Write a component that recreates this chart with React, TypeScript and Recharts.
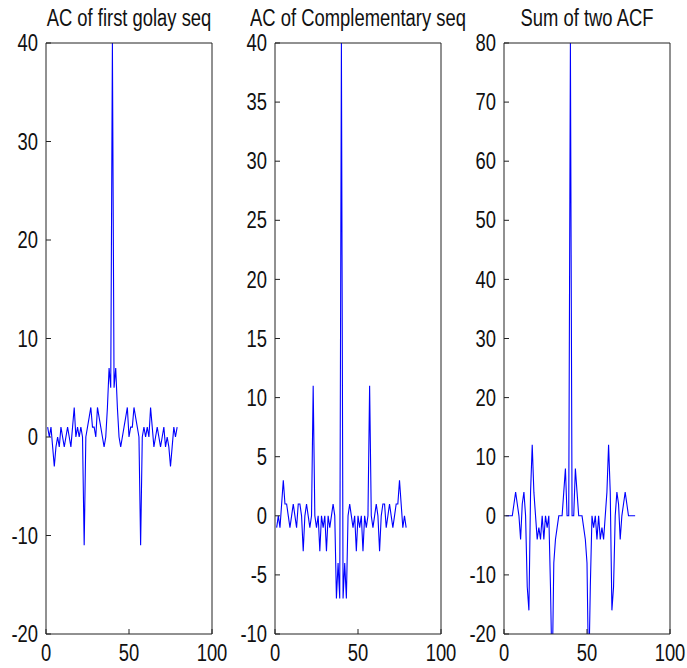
import { LineChart, Line, XAxis, YAxis } from 'recharts'

// lag index 1..79 (xcorr of a length-40 sequence)
const lags = Array.from({ length: 79 }, (_, i) => i + 1)

const acFirst = [
  1, 0, 1, -1, -3, -1, 0, -1, 1, 0, -1, 0, 1, 0, -1, 1, 3, 0, 1, 0,
  1, 0, -11, 0, 1, 2, 3, 1, 1, 0, 3, 2, 1, 0, -1, 0, 3, 7, 5, 40,
  5, 7, 3, 0, -1, 0, 1, 2, 3, 0, 1, 1, 3, 2, 1, 0, -11, 0, 1, 0,
  1, 0, 3, 1, -1, 0, 1, 0, -1, 0, 1, -1, 0, -1, -3, -1, 1, 0, 1,
]

const acComp = [
  -1, 0, -1, 1, 3, 1, 1, 0, -1, 0, 1, 0, -1, 1, 1, 0, -3, 0, 1, 0,
  -1, 0, 11, 0, -1, 0, -3, 0, -1, 0, -3, 0, -1, 0, 1, 0, -7, -4, -7, 40,
  -7, -4, -7, 0, 1, 0, -1, 0, -3, 0, -1, 0, -3, 0, -1, 0, 11, 0, -1, 0,
  1, 0, -3, 0, 1, 1, -1, 0, 1, 0, -1, 0, 1, 1, 3, 1, -1, 0, -1,
]

const acSum = [
  0, 0, 0, 0, 0, 2, 4, 2, 0, -4, 2, 4, 0, -12, -16, 4, 12, 4, 0, -4,
  -2, -4, 0, -4, 0, -2, 0, -12, -28, -8, -4, -2, 0, 0, 0, 4, 8, 0, 0, 80,
  0, 0, 8, 4, 0, 0, 0, -2, -4, -8, -28, -12, 0, -2, 0, -4, 0, -4, -2, -4,
  0, 4, 12, 4, -16, -12, 0, 4, 2, -4, 0, 2, 4, 2, 0, 0, 0, 0, 0,
]

const titles = ['AC of first golay seq', 'AC of Complementary seq', 'Sum of two ACF']
const xTicks = [0, 50, 100]
const yTicks1 = [-20, -10, 0, 10, 20, 30, 40]
const yTicks2 = [-10, -5, 0, 5, 10, 15, 20, 25, 30, 35, 40]
const yTicks3 = [-20, -10, 0, 10, 20, 30, 40, 50, 60, 70, 80]

const FONT = "'Liberation Sans', Arial, sans-serif"
const PLOT_W = 166
const TOP = 43
const BOTTOM = 634
const H = 668
const RIGHT_PAD = 30
const AXIS = '#222'
const SQUEEZE = 0.8

// narrow, tall tick labels like the old figure export
function BottomTick(props: any) {
  const { x, y, payload } = props
  return (
    <text
      transform={`translate(${x},${y}) scale(${SQUEEZE},1)`}
      textAnchor="middle"
      dy="0.71em"
      fontSize={23}
      fontFamily={FONT}
      fill="#111"
    >
      {payload.value}
    </text>
  )
}

function LeftTick(props: any) {
  const { x, y, payload } = props
  return (
    <text
      transform={`translate(${x},${y}) scale(${SQUEEZE},1)`}
      textAnchor="end"
      dy="0.355em"
      fontSize={23}
      fontFamily={FONT}
      fill="#111"
    >
      {payload.value}
    </text>
  )
}

type PanelProps = {
  left: number
  title: string
  values: number[]
  yDomain: [number, number]
  yTicks: number[]
}

function Panel({ left, title, values, yDomain, yTicks }: PanelProps) {
  const rows = lags.map((x, i) => ({ x, v: values[i] }))
  return (
    <>
      <div
        style={{
          position: 'absolute',
          left: left + PLOT_W / 2 - 150,
          width: 300,
          top: 7,
          textAlign: 'center',
          fontFamily: FONT,
          fontSize: 23,
          lineHeight: '23px',
          whiteSpace: 'nowrap',
          color: '#111',
          transform: `scaleX(${SQUEEZE})`,
          transformOrigin: 'center',
        }}
      >
        {title}
      </div>
      <div style={{ position: 'absolute', left: left - 45, top: 0 }}>
        <LineChart
          width={PLOT_W + 46 + RIGHT_PAD}
          height={H}
          data={rows}
          margin={{ top: TOP - 1, right: RIGHT_PAD, bottom: H - BOTTOM - 30, left: 0 }}
        >
          <XAxis
            xAxisId="b"
            dataKey="x"
            type="number"
            domain={[0, 100]}
            ticks={xTicks}
            interval={0}
            height={30}
            tickSize={-5}
            tickMargin={16}
            stroke={AXIS}
            tick={<BottomTick />}
          />
          <XAxis
            xAxisId="t"
            orientation="top"
            dataKey="x"
            type="number"
            domain={[0, 100]}
            ticks={xTicks}
            interval={0}
            height={1}
            tickSize={-5}
            tick={false}
            stroke={AXIS}
          />
          <YAxis
            yAxisId="l"
            type="number"
            domain={yDomain}
            ticks={yTicks}
            interval={0}
            width={45}
            tickSize={-5}
            tickMargin={13}
            stroke={AXIS}
            tick={<LeftTick />}
            allowDataOverflow
          />
          <YAxis
            yAxisId="r"
            orientation="right"
            type="number"
            domain={yDomain}
            ticks={yTicks}
            interval={0}
            width={1}
            tickSize={-5}
            tick={false}
            stroke={AXIS}
            allowDataOverflow
          />
          <Line
            xAxisId="b"
            yAxisId="l"
            type="linear"
            dataKey="v"
            stroke="#0000ff"
            strokeWidth={1.1}
            dot={false}
            activeDot={false}
            isAnimationActive={false}
          />
        </LineChart>
      </div>
    </>
  )
}

export default function App() {
  return (
    <div
      style={{
        position: 'absolute',
        left: 0,
        top: 0,
        width: 687,
        height: 668,
        background: '#fff',
        overflow: 'hidden',
      }}
    >
      <Panel left={46} title={titles[0]} values={acFirst} yDomain={[-20, 40]} yTicks={yTicks1} />
      <Panel left={275} title={titles[1]} values={acComp} yDomain={[-10, 40]} yTicks={yTicks2} />
      <Panel left={504} title={titles[2]} values={acSum} yDomain={[-20, 80]} yTicks={yTicks3} />
    </div>
  )
}
